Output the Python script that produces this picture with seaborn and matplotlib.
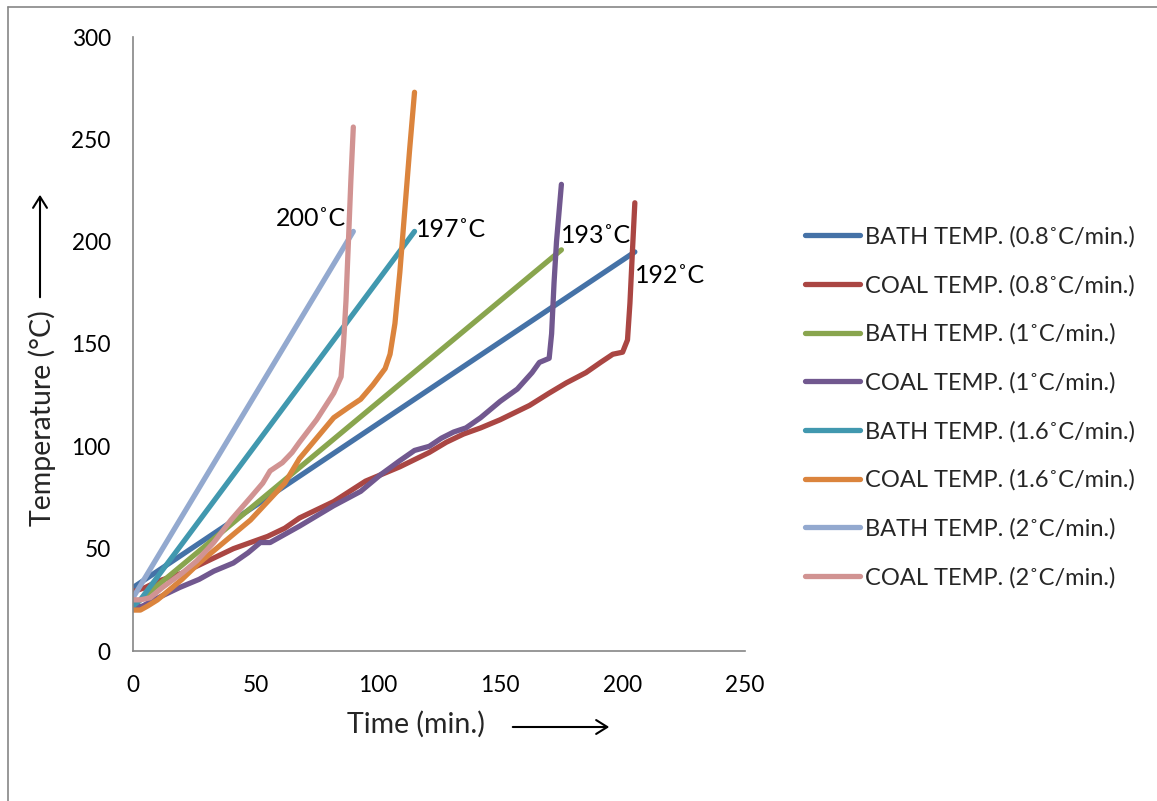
import numpy as np
import pandas as pd
import matplotlib
matplotlib.use("Agg")
import matplotlib.pyplot as plt
import seaborn as sns
from matplotlib.lines import Line2D

# ---------------- data ----------------
labels = [
    "BATH TEMP. (0.8˚C/min.)",
    "COAL TEMP. (0.8˚C/min.)",
    "BATH TEMP. (1˚C/min.)",
    "COAL TEMP. (1˚C/min.)",
    "BATH TEMP. (1.6˚C/min.)",
    "COAL TEMP. (1.6˚C/min.)",
    "BATH TEMP. (2˚C/min.)",
    "COAL TEMP. (2˚C/min.)",
]

bath08_t = [0, 205]
bath08_T = [31, 195]

coal08_t = [0, 5, 10, 20, 27, 34, 41, 48, 55, 62, 68, 75, 82, 95, 109, 121, 128, 135,
            142, 150, 162, 170, 177, 185, 191, 196, 200, 202, 203, 204, 205]
coal08_T = [29, 31, 34, 38, 42, 46, 50, 53, 56, 60, 65, 69, 73, 83, 90, 97, 102, 106,
            109, 113, 120, 126, 131, 136, 141, 145, 146, 152, 170, 195, 219]

bath1_t = [0, 175]
bath1_T = [22, 196]

coal1_t = [0, 4, 7, 12, 19, 27, 33, 41, 47, 52, 56, 62, 68, 75, 82, 93, 101, 109,
           115, 121, 126, 131, 136, 142, 150, 157, 163, 166, 170, 171, 172, 173, 175]
coal1_T = [21, 22, 24, 27, 31, 35, 39, 43, 48, 53, 53, 57, 61, 66, 71, 78, 86, 93,
           98, 100, 104, 107, 109, 114, 122, 128, 136, 141, 143, 155, 180, 200, 228]

bath16_t = [0, 3, 115]
bath16_T = [22, 25, 205]

coal16_t = [0, 3, 6, 10, 15, 20, 27, 35, 41, 48, 55, 62, 68, 75, 82, 88, 93, 98,
            103, 105, 107, 109, 111, 113, 115]
coal16_T = [20, 20, 22, 25, 30, 35, 43, 51, 57, 64, 73, 82, 94, 104, 114, 119, 123, 130,
            138, 145, 160, 185, 215, 245, 273]

bath2_t = [0, 90]
bath2_T = [26, 205]

coal2_t = [0, 3, 7, 12, 20, 26, 33, 40, 48, 53, 56, 61, 65, 68, 75, 82, 85, 86,
           87, 88, 89, 90]
coal2_T = [25, 25, 26, 31, 38, 44, 53, 64, 75, 82, 88, 92, 97, 102, 113, 126, 134, 150,
           171, 200, 230, 256]

series_t = [bath08_t, coal08_t, bath1_t, coal1_t, bath16_t, coal16_t, bath2_t, coal2_t]
series_T = [bath08_T, coal08_T, bath1_T, coal1_T, bath16_T, coal16_T, bath2_T, coal2_T]

colors = ["#4572A7", "#AA4643", "#89A54E", "#71588F",
          "#4198AF", "#DB843D", "#93A9CF", "#D19392"]

annot_text = ["200˚C", "197˚C", "193˚C", "192˚C"]
annot_x = [72.5, 130, 189, 219.5]
annot_y = [211.5, 206, 203, 183.5]

x_ticks = [0, 50, 100, 150, 200, 250]
y_ticks = [0, 50, 100, 150, 200, 250, 300]

# ---------------- plot ----------------
sns.set_theme(style="white")
plt.rcParams["font.family"] = ["Lato", "DejaVu Sans"]

FS_TICK = 16.3
FS_LEG = 17
FS_ANN = 18
FS_TITLE = 20.5

fig = plt.figure(figsize=(11.57, 8.01), dpi=100)
fig.patch.set_facecolor("white")
ax = fig.add_axes([133 / 1157, 1 - 651 / 801, (745 - 133) / 1157, (651 - 37) / 801])

for t, T, lab, col in zip(series_t, series_T, labels, colors):
    df = pd.DataFrame({"Time": t, "Temp": T})
    sns.lineplot(data=df, x="Time", y="Temp", ax=ax, color=col, linewidth=3.8,
                 sort=False, estimator=None, label=lab, legend=False,
                 solid_capstyle="round", solid_joinstyle="round")

ax.set_xlim(0, 250)
ax.set_ylim(0, 300)
ax.set_xticks(x_ticks)
ax.set_yticks(y_ticks)
ax.set_xticklabels([str(v) for v in x_ticks], fontsize=FS_TICK)
ax.set_yticklabels([str(v) for v in y_ticks], fontsize=FS_TICK)
ax.set_xlabel("")
ax.set_ylabel("")

for s in ["top", "right"]:
    ax.spines[s].set_visible(False)
for s in ["left", "bottom"]:
    ax.spines[s].set_color("#868686")
    ax.spines[s].set_linewidth(1.2)
ax.tick_params(axis="both", direction="out", length=6, width=1.2, color="#868686",
               labelcolor="black")
ax.tick_params(axis="x", pad=11)
ax.tick_params(axis="y", pad=10)
ax.grid(False)

for txt, xx, yy in zip(annot_text, annot_x, annot_y):
    ax.text(xx, yy, txt, fontsize=FS_ANN, ha="center", va="center", color="black")

# axis titles with arrows (figure coordinates)
fig.text(416 / 1157, 1 - 724 / 801, "Time (min.)", fontsize=FS_TITLE, ha="center", va="center")
fig.add_artist(matplotlib.patches.FancyArrowPatch(
    (510 / 1157, 1 - 727 / 801), (612 / 1157, 1 - 727 / 801),
    transform=fig.transFigure, arrowstyle="->,head_length=8,head_width=5",
    mutation_scale=1, color="black", linewidth=1.5))
fig.text(42 / 1157, 1 - 418 / 801, "Temperature (°C)", fontsize=FS_TITLE, ha="center",
         va="center", rotation=90)
fig.add_artist(matplotlib.patches.FancyArrowPatch(
    (40 / 1157, 1 - 300 / 801), (40 / 1157, 1 - 192 / 801),
    transform=fig.transFigure, arrowstyle="->,head_length=8,head_width=5",
    mutation_scale=1, color="black", linewidth=1.5))

# outer chart border (left and top edges visible)
fig.add_artist(Line2D([8 / 1157, 8 / 1157], [0, 1 - 7 / 801], transform=fig.transFigure,
                      color="#868686", linewidth=1.2))
fig.add_artist(Line2D([8 / 1157, 1], [1 - 7 / 801, 1 - 7 / 801], transform=fig.transFigure,
                      color="#868686", linewidth=1.2))

handles, labs = ax.get_legend_handles_labels()
leg = ax.legend(handles, labs, loc="upper left", bbox_to_anchor=(805 / 1157, 1 - 226 / 801),
                bbox_transform=fig.transFigure, frameon=False, fontsize=FS_LEG,
                handlelength=2.33, handletextpad=0.21, labelspacing=1.15,
                borderaxespad=0, borderpad=0)
for h in leg.get_lines():
    h.set_linewidth(3.8)

fig.savefig("out.png", dpi=100, facecolor="white")
